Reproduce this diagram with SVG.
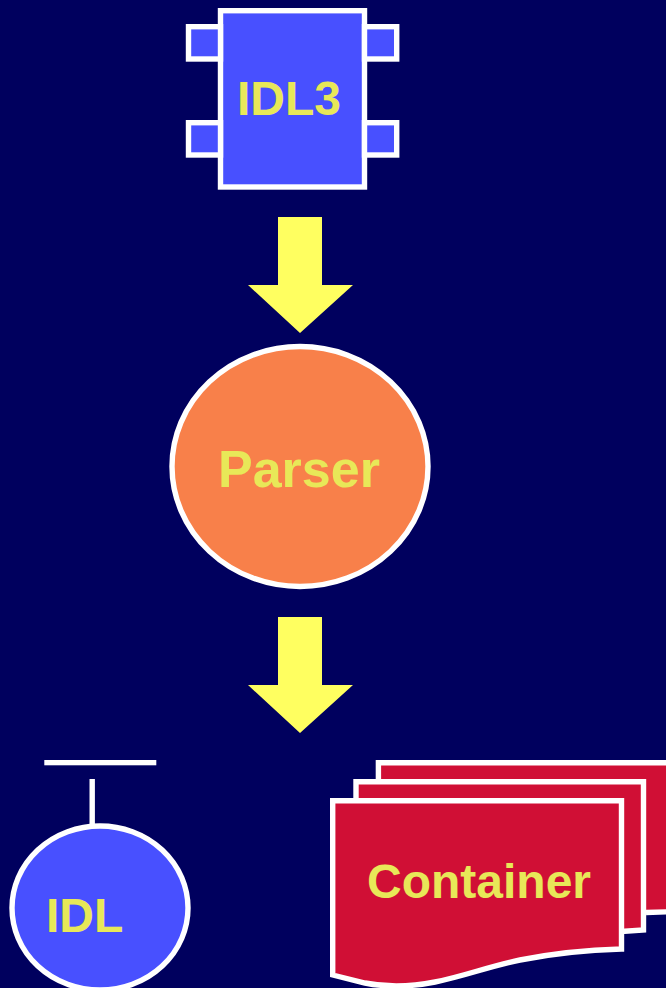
<svg xmlns="http://www.w3.org/2000/svg" width="666" height="988" viewBox="0 0 666 988">
<style>
.o{stroke:#fff;stroke-width:5.4}
.b{fill:#4850ff}
.r{fill:#d00f35}
.t{font-family:"Liberation Sans",Arial,sans-serif;font-weight:700;fill:#e8e858}
.a{fill:#ffff60}
</style>
<rect width="666" height="988" fill="#00005e"/>
<g id="idl3">
<rect class="o b" x="220.5" y="10.7" width="144" height="176.3"/>
<rect class="o b" x="188.5" y="26.7" width="32" height="32.3"/>
<rect class="o b" x="364.5" y="26.7" width="32.2" height="32.3"/>
<rect class="o b" x="188.5" y="122.7" width="32" height="32.3"/>
<rect class="o b" x="364.5" y="122.7" width="32.2" height="32.3"/>
<text class="t" x="237" y="115" font-size="48">IDL3</text>
</g>
<g id="parser">
<ellipse class="o" fill="#f8804a" cx="300" cy="466.5" rx="128" ry="120"/>
<text class="t" x="218" y="487" font-size="52">Parser</text>
</g>
<g id="idl">
<rect x="44.3" y="760" width="112" height="5.3" fill="#fff"/>
<rect x="89.5" y="779" width="5.4" height="48" fill="#fff"/>
<ellipse class="o b" cx="100" cy="908" rx="88" ry="82"/>
<text class="t" x="46" y="931.5" font-size="48">IDL</text>
</g>
<g id="container">
<path class="o r" d="M378.4 790V762.7H672V911.7L646 912.5"/>
<path class="o r" d="M356 810V781.7H643.5V930L621 931.5"/>
<path class="o r" d="M332.7 975V800.8H621.5V949C585 950 555 953 520 960C490 966 465 976 435 982C410 987 385 987 365 983Z"/>
<text class="t" x="367" y="898" font-size="48">Container</text>
</g>
<g id="connectors">
<path class="a" d="M278 217H322V285H353L300 333L248 285H278Z"/>
<path class="a" d="M278 617H322V685H353L300 733L248 685H278Z"/>
</g>
</svg>
